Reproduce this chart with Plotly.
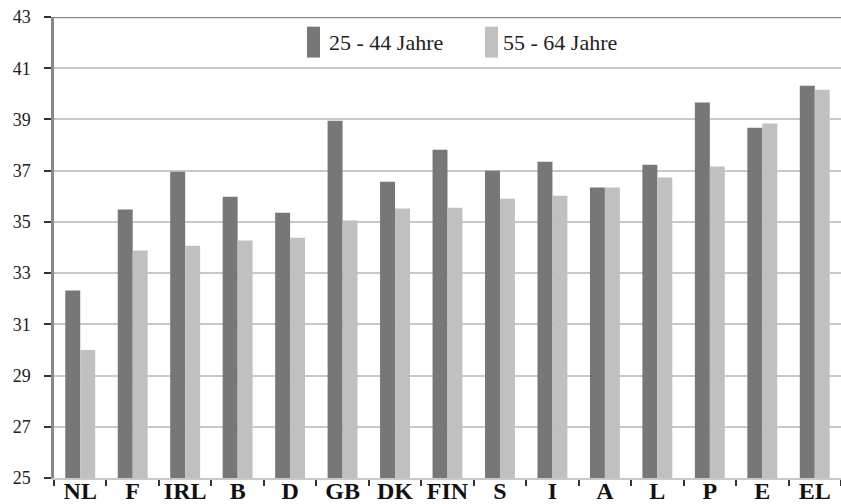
import plotly.graph_objects as go

# Länder und Werte der beiden Altersgruppen
countries = ["NL", "F", "IRL", "B", "D", "GB", "DK", "FIN", "S", "I", "A", "L", "P", "E", "EL"]
series_names = ["25 - 44 Jahre", "55 - 64 Jahre"]
age_25_44 = [32.32, 35.48, 36.96, 35.98, 35.36, 38.95, 36.57, 37.82, 37.0, 37.35, 36.34, 37.23, 39.66, 38.68, 40.32]
age_55_64 = [30.0, 33.88, 34.07, 34.27, 34.38, 35.05, 35.52, 35.55, 35.9, 36.02, 36.34, 36.73, 37.16, 38.84, 40.16]
y_ticks = [25, 27, 29, 31, 33, 35, 37, 39, 41, 43]

dark = "#777777"
light = "#c0c0c0"
font_family = "Liberation Serif, DejaVu Serif, serif"

fig = go.Figure()
fig.add_trace(go.Bar(x=countries, y=age_25_44, name=series_names[0],
                     marker=dict(color=dark, line=dict(width=0))))
fig.add_trace(go.Bar(x=countries, y=age_55_64, name=series_names[1],
                     marker=dict(color=light, line=dict(width=0))))

fig.update_layout(
    width=841, height=504,
    margin=dict(l=54, r=0, t=17, b=26, autoexpand=False),
    paper_bgcolor="white", plot_bgcolor="white",
    barmode="group", bargap=0.43, bargroupgap=0,
    showlegend=False,
    font=dict(family=font_family, color="#222222"),
)

fig.update_xaxes(
    type="category",
    showgrid=False, automargin=False, tickangle=0,
    showline=True, linecolor="#c8c8c8", linewidth=2,
    ticks="outside", tickson="boundaries", ticklen=6, tickwidth=1.5, tickcolor="#333333",
    tickfont=dict(family=font_family, size=24, color="#111111", weight="bold"),
    ticklabelstandoff=-10,
)

fig.update_yaxes(
    range=[25, 43], tickvals=y_ticks, ticktext=[str(v) for v in y_ticks],
    showgrid=True, gridcolor="#c8c8c8", gridwidth=1.5, automargin=False,
    showline=True, linecolor="#888888", linewidth=2.5,
    ticks="outside", ticklen=7, tickwidth=1.5, tickcolor="#333333",
    tickfont=dict(family=font_family, size=18, color="#222222"),
    ticklabelstandoff=10,
    zeroline=False,
)

# obere Begrenzungslinie
fig.add_shape(type="line", xref="paper", yref="y", x0=0, x1=1, y0=43, y1=43,
              line=dict(color="#888888", width=2.5))

# Legende mit hohen Farbfeldern
legend_items = [
    (series_names[0], dark, 0.3215, 0.338, 0.347),
    (series_names[1], light, 0.5477, 0.5642, 0.568),
]
for label, color, sx0, sx1, tx in legend_items:
    fig.add_shape(type="rect", xref="paper", yref="paper",
                  x0=sx0, x1=sx1, y0=0.912, y1=0.979,
                  fillcolor=color, line=dict(width=0))
    fig.add_annotation(xref="paper", yref="paper", x=tx, y=0.944,
                       xanchor="left", yanchor="middle", showarrow=False,
                       text=label, font=dict(family=font_family, size=22, color="#222222"))

fig.write_html("out.html")
